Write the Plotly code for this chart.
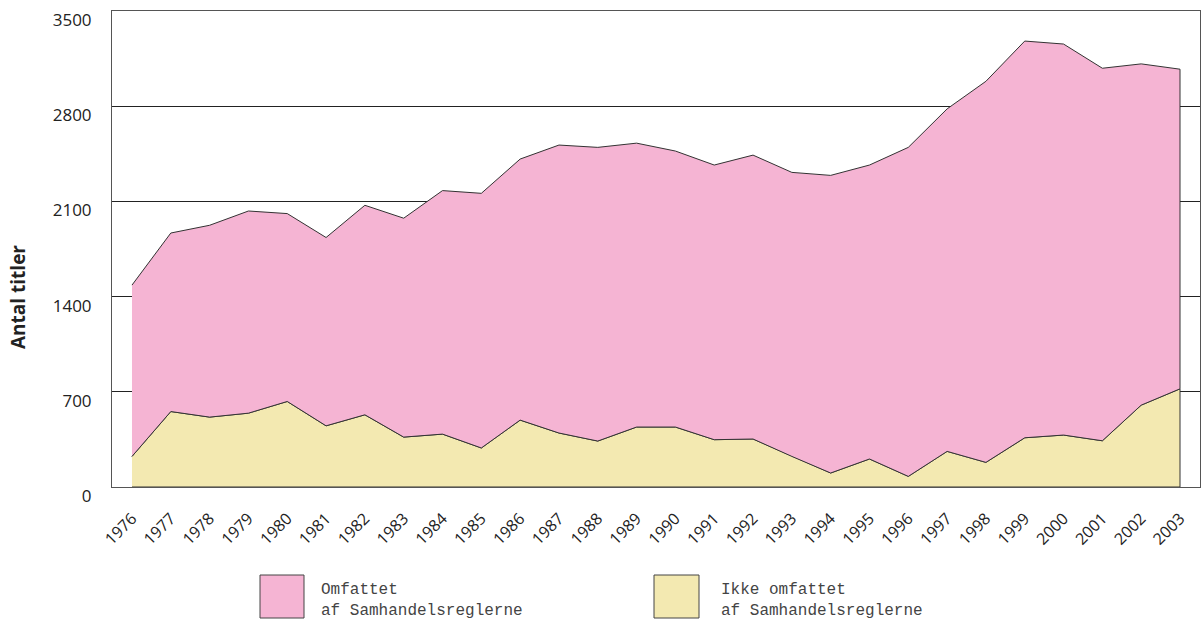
import plotly.graph_objects as go

years = list(range(1976, 2004))
ikke_omfattet = [225, 555, 514, 543, 629, 450, 531, 367, 389, 287, 492, 397, 338, 441,
                 441, 348, 353, 225, 103, 206, 78, 262, 181, 362, 382, 340, 602, 722]
omfattet = [1260, 1313, 1411, 1487, 1382, 1385, 1541, 1610, 1791, 1873, 1920, 2118, 2160, 2088,
            2030, 2020, 2088, 2089, 2189, 2162, 2420, 2519, 2803, 2918, 2876, 2740, 2510, 2351]
y_ticks = [0, 700, 1400, 2100, 2800, 3500]
x_labels = [str(y) for y in years]

PINK = "#F5B4D3"
YELLOW = "#F3E9B1"
EDGE = "#333333"

total = [a + b for a, b in zip(ikke_omfattet, omfattet)]

fig = go.Figure()
# yellow polygon: Ikke omfattet
fig.add_trace(go.Scatter(
    x=years + [years[-1], years[0]],
    y=ikke_omfattet + [0, 0],
    fill="toself", fillcolor=YELLOW, mode="lines",
    line=dict(color=EDGE, width=1), name="Ikke omfattet af Samhandelsreglerne",
    showlegend=False, hoverinfo="skip"))
# pink polygon: Omfattet (stacked on top)
fig.add_trace(go.Scatter(
    x=years + years[::-1],
    y=total + ikke_omfattet[::-1],
    fill="toself", fillcolor=PINK, mode="lines",
    line=dict(color=EDGE, width=1), name="Omfattet af Samhandelsreglerne",
    showlegend=False, hoverinfo="skip"))

font_main = "Open Sans, Noto Sans, sans-serif"

fig.update_layout(
    width=1203, height=622,
    margin=dict(l=112, r=3, t=11, b=135, autoexpand=False),
    paper_bgcolor="white", plot_bgcolor="white",
    font=dict(family=font_main, color="#222", size=16),
    xaxis=dict(range=[1975.485, 2003.515], tickmode="array", tickvals=years, ticktext=x_labels,
               tickangle=-45, showgrid=False, zeroline=False, showline=True, mirror=True,
               linecolor="#555", linewidth=1, ticks="", tickfont=dict(size=16, family=font_main),
               ticklabelstandoff=15, automargin=False),
    yaxis=dict(range=[0, 3501], tickmode="array", tickvals=y_ticks,
               showgrid=True, gridcolor="#222", gridwidth=1, zeroline=False,
               showline=True, mirror=True, linecolor="#555", linewidth=1, ticks="",
               tickfont=dict(size=17, family=font_main), ticklabelshift=9,
               ticklabelstandoff=16, automargin=False, ticklabeloverflow="allow"),
)

# y axis title
fig.add_annotation(text="<b>Antal titler</b>", xref="paper", yref="paper",
                   x=(18 - 112) / 1088, y=(487 - 297) / 476, textangle=-90, showarrow=False,
                   font=dict(size=19, family=font_main, color="#222"),
                   xanchor="center", yanchor="middle")

# custom legend
W, H = 1088, 476
def px(xp):
    return (xp - 112) / W
def py(yp):
    return (487 - yp) / H

legend_items = [
    (260, 304, PINK, 319, "Omfattet<br>af Samhandelsreglerne"),
    (654, 699, YELLOW, 719, "Ikke omfattet<br>af Samhandelsreglerne"),
]
for x0, x1, col, tx, label in legend_items:
    fig.add_shape(type="rect", xref="paper", yref="paper",
                  x0=px(x0), x1=px(x1), y0=py(618), y1=py(575),
                  fillcolor=col, line=dict(color="#444", width=1))
    fig.add_annotation(text=label, xref="paper", yref="paper", x=px(tx), y=py(600),
                       xanchor="left", yanchor="middle", align="left", showarrow=False,
                       font=dict(size=16, family="Liberation Mono, Courier New, monospace",
                                 color="#444"))

fig.write_html("out.html", config={"displayModeBar": False},
               post_script="document.body.style.margin='0';")
